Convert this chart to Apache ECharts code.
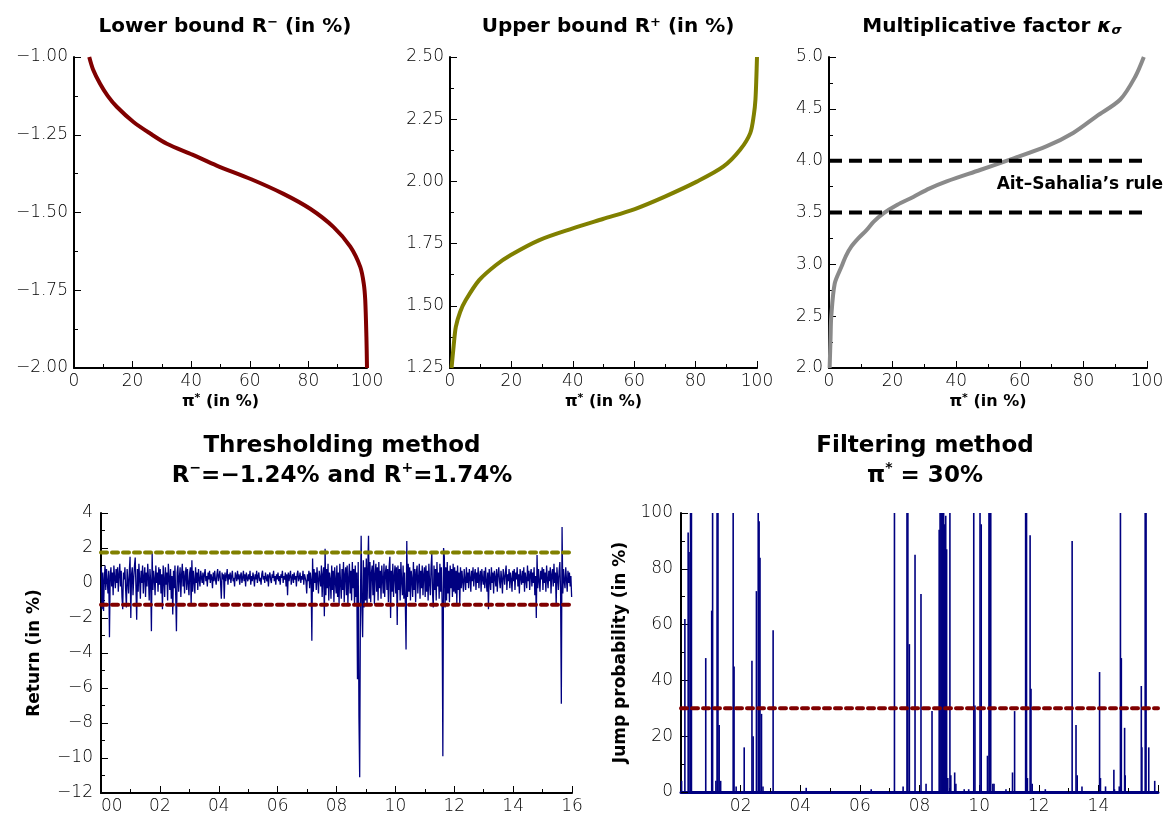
<!DOCTYPE html>
<html>
<head>
<meta charset="utf-8">
<script src="https://cdn.jsdelivr.net/npm/echarts@6/dist/echarts.min.js"></script>
<style>
html,body{margin:0;padding:0;background:#fff;}
#chart{width:1167px;height:816px;}
</style>
</head>
<body>
<div id="chart"></div>
<script>
// ---------- DATA ----------
// Top-left: lower bound R- (in %) vs pi* (in %)
const lowerPi  = [5.2, 6.5, 8.9, 11.5, 14.6, 20.3, 26, 31.7, 40.4, 48.7, 60.5, 71.5, 80.6, 88.6, 94.3, 97.7, 98.9, 99.4, 99.8, 100];
const lowerVal = [-1.0, -1.04, -1.086, -1.125, -1.16, -1.209, -1.246, -1.279, -1.314, -1.349, -1.393, -1.44, -1.488, -1.547, -1.61, -1.675, -1.729, -1.782, -1.9, -2.0];
// Top-middle: upper bound R+ (in %)
const upperPi  = [0.5, 1.2, 1.9, 3.3, 5.1, 9.5, 14.9, 19.8, 29.1, 40, 49.8, 60.2, 70, 80.4, 89.1, 94.5, 97.8, 99.0, 99.5, 99.8, 100];
const upperVal = [1.25, 1.34, 1.415, 1.475, 1.522, 1.603, 1.663, 1.704, 1.764, 1.811, 1.849, 1.889, 1.939, 1.999, 2.06, 2.127, 2.194, 2.27, 2.33, 2.42, 2.5];
// Top-right: multiplicative factor kappa_sigma
const kappaPi  = [0.2, 0.5, 0.7, 1.8, 3.9, 5.3, 7, 9.2, 11.8, 14, 17, 21.5, 26.5, 31.5, 37, 47.5, 56.9, 68.5, 76.9, 84.2, 91.6, 96.3, 99];
const kappaVal = [2.0, 2.3, 2.49, 2.815, 2.976, 3.08, 3.17, 3.25, 3.33, 3.41, 3.49, 3.575, 3.65, 3.73, 3.80, 3.91, 4.01, 4.14, 4.27, 4.43, 4.59, 4.81, 5.0];
const aitSahaliaLevels = [4.0, 3.5];

// Bottom-left: daily returns (in %), 40 samples per year, 2000-2016
const returns2000 = [0.9,-1.5,0.6,-1.6,0.2,1.0,-0.4,0.8,0.1,-0.6,0.7,-3.1,0.4,0.9,-0.2,0.6,-0.7,1.0,0.3,-0.3,0.8,0.0,0.9,-0.5,0.5,1.1,-0.2,0.7,-0.8,-1.5,0.6,0.2,0.9,-0.4,-1.4,0.8,0.1,-0.6,0.7,1.5];
const returns2001 = [-2.0,0.5,0.9,-0.7,0.3,1.0,1.45,-0.3,-2.1,0.8,-0.5,1.1,0.2,-0.9,0.7,0.0,1.0,-0.6,0.4,0.9,-0.8,0.6,-0.2,1.1,0.3,-1.0,0.8,0.1,-2.75,1.7,-0.4,0.7,0.2,-0.7,1.0,0.0,0.6,-0.5,0.9,-0.1];
const returns2002 = [0.8,-0.6,0.5,-1.5,1.0,0.2,-0.8,0.9,-0.1,0.6,-1.0,1.1,0.3,-0.4,0.8,-0.9,0.4,-1.8,0.7,-0.3,1.0,-0.7,-2.75,0.6,1.0,-0.5,0.3,0.9,-0.8,0.5,1.1,-0.2,0.7,-0.6,0.4,0.9,-0.4,0.8,0.0,-0.7];
const returns2003 = [0.6,0.9,-1.3,1.3,-0.5,0.7,0.1,-0.6,0.9,0.0,0.6,-0.4,0.8,0.2,-0.2,0.7,0.3,0.0,0.6,-0.1,0.5,0.8,0.1,0.4,-0.2,0.6,0.2,0.7,0.0,0.5,0.3,-0.3,0.6,0.1,0.7,0.2,-0.1,0.5,0.8,0.1];
const returns2004 = [0.4,0.7,0.0,-0.9,0.6,0.2,0.5,-0.9,0.6,0.1,0.4,0.8,-0.1,0.5,0.2,0.6,0.0,0.4,0.7,0.1,0.3,-0.2,0.6,0.4,0.1,0.7,0.2,0.5,-0.1,0.4,0.6,0.0,0.3,0.7,0.1,0.5,-0.2,0.6,0.3,0.1];
const returns2005 = [0.5,0.2,0.7,-0.1,0.4,0.1,0.6,0.3,-0.2,0.5,0.2,0.7,0.0,0.4,0.6,0.1,0.3,-0.1,0.5,0.7,0.2,0.4,0.0,0.6,0.3,0.1,0.5,-0.2,0.4,0.6,0.2,0.0,0.5,0.3,0.7,0.1,0.4,-0.1,0.5,0.2];
const returns2006 = [0.6,0.1,0.4,-0.1,0.5,0.3,0.7,0.0,0.4,0.2,0.6,-0.2,0.5,-0.7,0.6,0.1,0.4,0.7,-0.1,0.3,0.5,0.0,0.6,0.2,0.4,-0.2,0.5,0.7,0.1,0.3,0.6,0.0,0.4,0.2,0.7,-0.1,0.5,0.3,0.1,-0.6];
const returns2007 = [0.5,0.1,0.7,-0.3,0.6,0.2,-3.3,1.4,-0.5,0.8,0.0,0.6,-0.4,0.9,0.2,-0.6,0.7,0.3,-0.2,1.0,-0.8,0.5,0.9,-1.9,1.95,-0.7,0.8,-0.3,1.1,-1.0,0.6,0.2,-0.9,1.0,-0.4,0.7,-1.1,0.9,0.1,-0.6];
const returns2008 = [1.0,-0.8,0.6,-1.2,1.1,0.0,-0.9,0.8,-0.4,1.2,-1.1,0.5,0.9,-0.7,1.0,-1.2,0.3,1.1,-0.6,0.7,-1.0,1.2,-0.3,0.8,-1.3,1.0,-0.8,0.6,-5.5,1.2,-7.6,-11.1,-1.2,2.7,-1.5,-3.1,1.3,-1.4,0.9,-1.0];
const returns2009 = [1.4,-1.3,0.8,2.7,-0.9,1.2,-1.1,0.6,1.0,-0.7,1.3,-1.2,0.5,1.1,-0.5,0.9,-1.0,1.2,-0.3,0.7,-0.9,1.0,0.2,-0.6,1.1,-0.8,0.6,1.0,-0.4,0.8,-1.1,0.9,1.5,-2.0,0.7,-0.5,1.1,-0.8,0.4,1.0];
const returns2010 = [-0.6,0.9,-2.4,1.0,-0.4,0.8,-1.0,1.2,0.1,-0.7,1.0,-0.9,0.6,-1.1,-3.8,2.4,-0.8,1.1,-0.5,0.9,-1.0,0.7,0.2,-0.8,1.2,-0.4,0.8,-1.1,0.6,1.0,-0.6,0.3,1.1,-0.9,0.7,-0.3,1.0,-0.7,0.5,0.9];
const returns2011 = [-0.8,1.0,-0.5,0.7,-1.0,1.1,0.0,-0.7,0.9,1.7,-0.6,-1.4,1.0,-0.4,0.8,-1.0,1.2,-0.2,0.6,-0.9,1.1,-0.5,0.9,-1.1,-9.9,2.0,1.5,-1.4,0.9,-1.0,1.2,-0.6,0.7,-1.1,1.0,-0.3,0.8,-0.8,1.1,-0.5];
const returns2012 = [0.9,-0.6,0.7,-1.2,1.0,-0.4,0.6,-1.2,0.9,-0.3,0.7,0.1,-0.5,0.8,0.2,-0.4,0.9,0.0,0.6,-0.3,0.8,0.3,-0.5,0.7,0.1,0.9,-0.2,0.5,0.8,-0.4,0.6,0.0,0.9,-0.3,0.4,0.7,-0.5,0.8,0.2,-0.1];
const returns2013 = [0.7,-0.3,0.9,0.1,-0.5,0.6,-1.5,0.8,0.2,-0.4,0.9,0.0,0.6,-0.6,0.7,0.3,-0.2,0.8,-0.5,0.5,0.9,0.1,-0.3,0.7,0.2,-0.6,0.8,0.4,-0.1,0.6,1.0,-0.4,0.5,0.1,0.8,-0.3,0.6,0.2,-0.5,0.7];
const returns2014 = [0.1,0.8,-0.4,0.6,0.2,0.9,-0.2,0.5,-0.6,0.8,0.3,-0.1,0.7,0.0,0.9,-0.5,0.6,0.2,-0.3,1.0,0.1,0.7,-0.4,0.5,0.8,-0.2,0.6,0.0,0.9,-0.7,0.4,-2.0,1.6,-0.3,0.8,0.1,-0.5,0.7,0.2,0.9];
const returns2015 = [-0.4,0.8,0.0,0.6,-0.5,1.0,0.2,-0.3,0.7,0.1,0.9,-0.6,0.5,0.8,-0.2,1.1,0.0,0.6,-1.3,0.9,0.3,-0.4,0.7,1.2,-0.5,-6.9,3.2,-0.6,0.8,0.1,-0.3,0.9,0.2,-0.5,0.7,0.0,0.6,-0.2,0.4,-0.8];
const thresholdLow = -1.24;
const thresholdHigh = 1.74;

// Bottom-right: jump probability spikes (in %)
const jumpYears  = [2000.02,2000.13,2000.24,2000.27,2000.32,2000.35,2000.83,2001.03,2001.06,2001.17,2001.21,2001.24,2001.28,2001.33,2001.75,2001.78,2001.85,2002.12,2002.38,2002.42,2002.53,2002.59,2002.62,2002.65,2002.70,2002.75,2003.09,2004.2,2006.38,
  2007.16,2007.45,2007.58,2007.61,2007.66,2007.85,2008.05,2008.22,2008.42,2008.66,2008.69,2008.72,2008.75,2008.78,2008.81,2008.84,2008.88,2008.91,2008.95,2009.02,2009.05,2009.18,2009.22,2009.5,2009.65,2009.82,2009.86,
  2010.03,2010.07,2010.28,2010.33,2010.36,2010.39,2010.46,2010.50,2010.9,2011.12,2011.19,2011.56,2011.59,2011.62,2011.71,2011.74,2011.78,2012.22,2013.12,2013.25,2013.29,2013.45,
  2014.04,2014.07,2014.24,2014.52,2014.54,2014.70,2014.74,2014.77,2014.88,2014.9,2015.44,2015.46,2015.57,2015.60,2015.69,2015.89];
const jumpValues = [4,62,93,86,100,100,48,65,100,4,100,100,24,4,100,45,2,16,47,20,72,100,97,84,28,2,58,1.5,1,
  100,2,100,100,53,85,71,3,29,94,100,100,100,100,100,96,99,87,5,100,6,7,3,1,1,100,31,
  100,96,13,100,100,100,3,3,1,7,29,100,100,5,92,37,3,1,90,24,6,2,
  43,5,2,8,1,2,100,48,23,6,38,16,100,100,16,4];
const piStar = 30;

// tick labels
const yearTickLabels = {2000:'00',2002:'02',2004:'04',2006:'06',2008:'08',2010:'10',2012:'12',2014:'14',2016:'16'};

// ---------- BUILD ----------
const returnsAll = [].concat(returns2000,returns2001,returns2002,returns2003,returns2004,returns2005,returns2006,returns2007,
  returns2008,returns2009,returns2010,returns2011,returns2012,returns2013,returns2014,returns2015);
const perYear = returns2000.length;
const returnsData = returnsAll.map((v,i)=>[2000 + (i+0.5)/perYear, v]);
const zip = (a,b)=>a.map((x,i)=>[x,b[i]]);

const FONT = 'DejaVu Sans';
const NAVY = '#000080', MAROON = '#800000', OLIVE = '#808000', GRAY = '#8a8a8a';
const minus = s => s.replace('-', '\u2212');
const tickLabel = {color:'#000', fontSize:17, fontFamily:FONT, fontWeight:200};

function baseAxis(gridIndex, extra){
  const a = {
    type:'value', gridIndex,
    axisLine:{show:true, onZero:false, lineStyle:{color:'#000', width:2}},
    axisTick:{show:true, inside:true, length:7, lineStyle:{color:'#000', width:1}},
    minorTick:{show:true, splitNumber:2, length:4, lineStyle:{color:'#000', width:1}},
    splitLine:{show:false}, minorSplitLine:{show:false},
    axisLabel:Object.assign({margin:5}, tickLabel)
  };
  return Object.assign(a, extra);
}
const richPi = {pi:{fontFamily:FONT, fontSize:16, fontWeight:'bold'}, sup:{fontFamily:FONT, fontSize:11, fontWeight:'bold', verticalAlign:'top', padding:[0,0,6,0]}};
const piName = {name:'{pi|\u03c0}{sup|*} (in %)', nameLocation:'middle', nameGap:25,
  nameTextStyle:{fontFamily:FONT, fontSize:16, fontWeight:'bold', color:'#000', rich:richPi}};

const titleStyle = {fontFamily:FONT, fontSize:20, fontWeight:'bold', color:'#000',
  rich:{
    sup:{fontFamily:FONT, fontSize:13, fontWeight:'bold', verticalAlign:'top', padding:[0,0,8,0]},
    k:{fontFamily:FONT, fontSize:20, fontWeight:'bold', fontStyle:'italic'},
    sub:{fontFamily:FONT, fontSize:13, fontWeight:'bold', fontStyle:'italic', verticalAlign:'bottom', padding:[8,0,0,0]}
  }};
const titleStyle2 = {fontFamily:FONT, fontSize:23, fontWeight:'bold', color:'#000', lineHeight:30,
  rich:{sup:{fontFamily:FONT, fontSize:14, fontWeight:'bold', verticalAlign:'top', padding:[0,0,10,0]}}};

const option = {
  animation:false,
  backgroundColor:'#fff',
  title:[
    {text:'Lower bound R{sup|\u2212} (in %)', left:220, top:11, textAlign:'center', textStyle:titleStyle},
    {text:'Upper bound R{sup|+} (in %)', left:603, top:11, textAlign:'center', textStyle:titleStyle},
    {text:'Multiplicative factor {k|\u03ba}{sub|\u03c3}', left:987, top:11, textAlign:'center', textStyle:titleStyle},
    {text:'Thresholding method\nR{sup|\u2212}=\u22121.24% and R{sup|+}=1.74%', left:337, top:426, textAlign:'center', textStyle:titleStyle2},
    {text:'Filtering method\n\u03c0{sup|*} = 30%', left:920, top:426, textAlign:'center', textStyle:titleStyle2}
  ],
  grid:[
    {left:74, top:57, width:293, height:311},
    {left:450, top:57, width:307, height:311},
    {left:829, top:57, width:318, height:311},
    {left:101, top:513, width:471, height:280},
    {left:681, top:513, width:477, height:279}
  ],
  xAxis:[
    baseAxis(0, Object.assign({min:0, max:100, interval:20}, piName)),
    baseAxis(1, Object.assign({min:0, max:100, interval:20}, piName)),
    baseAxis(2, Object.assign({min:0, max:100, interval:20}, piName)),
    baseAxis(3, {min:2000, max:2016, interval:2,
      axisLabel:Object.assign({margin:5, alignMinLabel:'left', formatter:v=>yearTickLabels[v] || ''}, tickLabel)}),
    baseAxis(4, {min:2000, max:2016, interval:2,
      axisLine:{show:true, onZero:false, lineStyle:{color:NAVY, width:3}},
      axisLabel:Object.assign({margin:6, showMinLabel:false, showMaxLabel:false, formatter:v=>yearTickLabels[v] || ''}, tickLabel)})
  ],
  yAxis:[
    baseAxis(0, {min:-2, max:-1, interval:0.25, axisLabel:Object.assign({margin:6, formatter:v=>minus(v.toFixed(2))}, tickLabel)}),
    baseAxis(1, {min:1.25, max:2.5, interval:0.25, axisLabel:Object.assign({margin:6, formatter:v=>v.toFixed(2)}, tickLabel)}),
    baseAxis(2, {min:2, max:5, interval:0.5, axisLabel:Object.assign({margin:6, formatter:v=>v.toFixed(1)}, tickLabel)}),
    baseAxis(3, {min:-12, max:4, interval:2, axisLabel:Object.assign({margin:8, formatter:v=>minus(String(v))}, tickLabel),
      name:'Return (in %)', nameLocation:'middle', nameGap:58, nameTextStyle:{fontFamily:FONT, fontSize:17, fontWeight:'bold', color:'#000'}}),
    baseAxis(4, {min:0, max:100, interval:20, axisLabel:Object.assign({margin:8}, tickLabel),
      name:'Jump probability (in %)', nameLocation:'middle', nameGap:52, nameTextStyle:{fontFamily:FONT, fontSize:17, fontWeight:'bold', color:'#000'}})
  ],
  series:[
    {type:'line', xAxisIndex:0, yAxisIndex:0, data:zip(lowerPi, lowerVal), smooth:0.3, showSymbol:false,
      lineStyle:{color:MAROON, width:4}},
    {type:'line', xAxisIndex:1, yAxisIndex:1, data:zip(upperPi, upperVal), smooth:0.3, showSymbol:false,
      lineStyle:{color:OLIVE, width:4}},
    {type:'line', xAxisIndex:2, yAxisIndex:2, data:zip(kappaPi, kappaVal), smooth:0.3, showSymbol:false,
      lineStyle:{color:GRAY, width:4}},
    {type:'line', xAxisIndex:2, yAxisIndex:2, data:[[0,aitSahaliaLevels[0]],[99,aitSahaliaLevels[0]]], showSymbol:false,
      lineStyle:{color:'#000', width:4, type:[13,7]}},
    {type:'line', xAxisIndex:2, yAxisIndex:2, data:[[0,aitSahaliaLevels[1]],[99,aitSahaliaLevels[1]]], showSymbol:false,
      lineStyle:{color:'#000', width:4, type:[13,7]}},
    {type:'line', xAxisIndex:3, yAxisIndex:3, data:returnsData, showSymbol:false, lineStyle:{color:NAVY, width:1.3}},
    {type:'line', xAxisIndex:3, yAxisIndex:3, data:[[2000,thresholdHigh],[2016,thresholdHigh]], showSymbol:false,
      lineStyle:{color:OLIVE, width:4, type:[6,5], cap:'round'}},
    {type:'line', xAxisIndex:3, yAxisIndex:3, data:[[2000,thresholdLow],[2016,thresholdLow]], showSymbol:false,
      lineStyle:{color:MAROON, width:4, type:[6,5], cap:'round'}},
    {type:'bar', xAxisIndex:4, yAxisIndex:4, data:zip(jumpYears, jumpValues), barWidth:1.6,
      itemStyle:{color:NAVY}},
    {type:'line', xAxisIndex:4, yAxisIndex:4, data:[[2000,piStar],[2016,piStar]], showSymbol:false, z:5,
      lineStyle:{color:MAROON, width:4, type:[6,5], cap:'round'}}
  ],
  graphic:[
    {type:'text', right:4, top:176, style:{text:'Ait\u2013Sahalia\u2019s rule', fontFamily:FONT, fontSize:17, fontWeight:'bold', fill:'#000'}}
  ]
};
const chart = echarts.init(document.getElementById('chart'), null, {renderer:'canvas'});
chart.setOption(option);
</script>
</body>
</html>
